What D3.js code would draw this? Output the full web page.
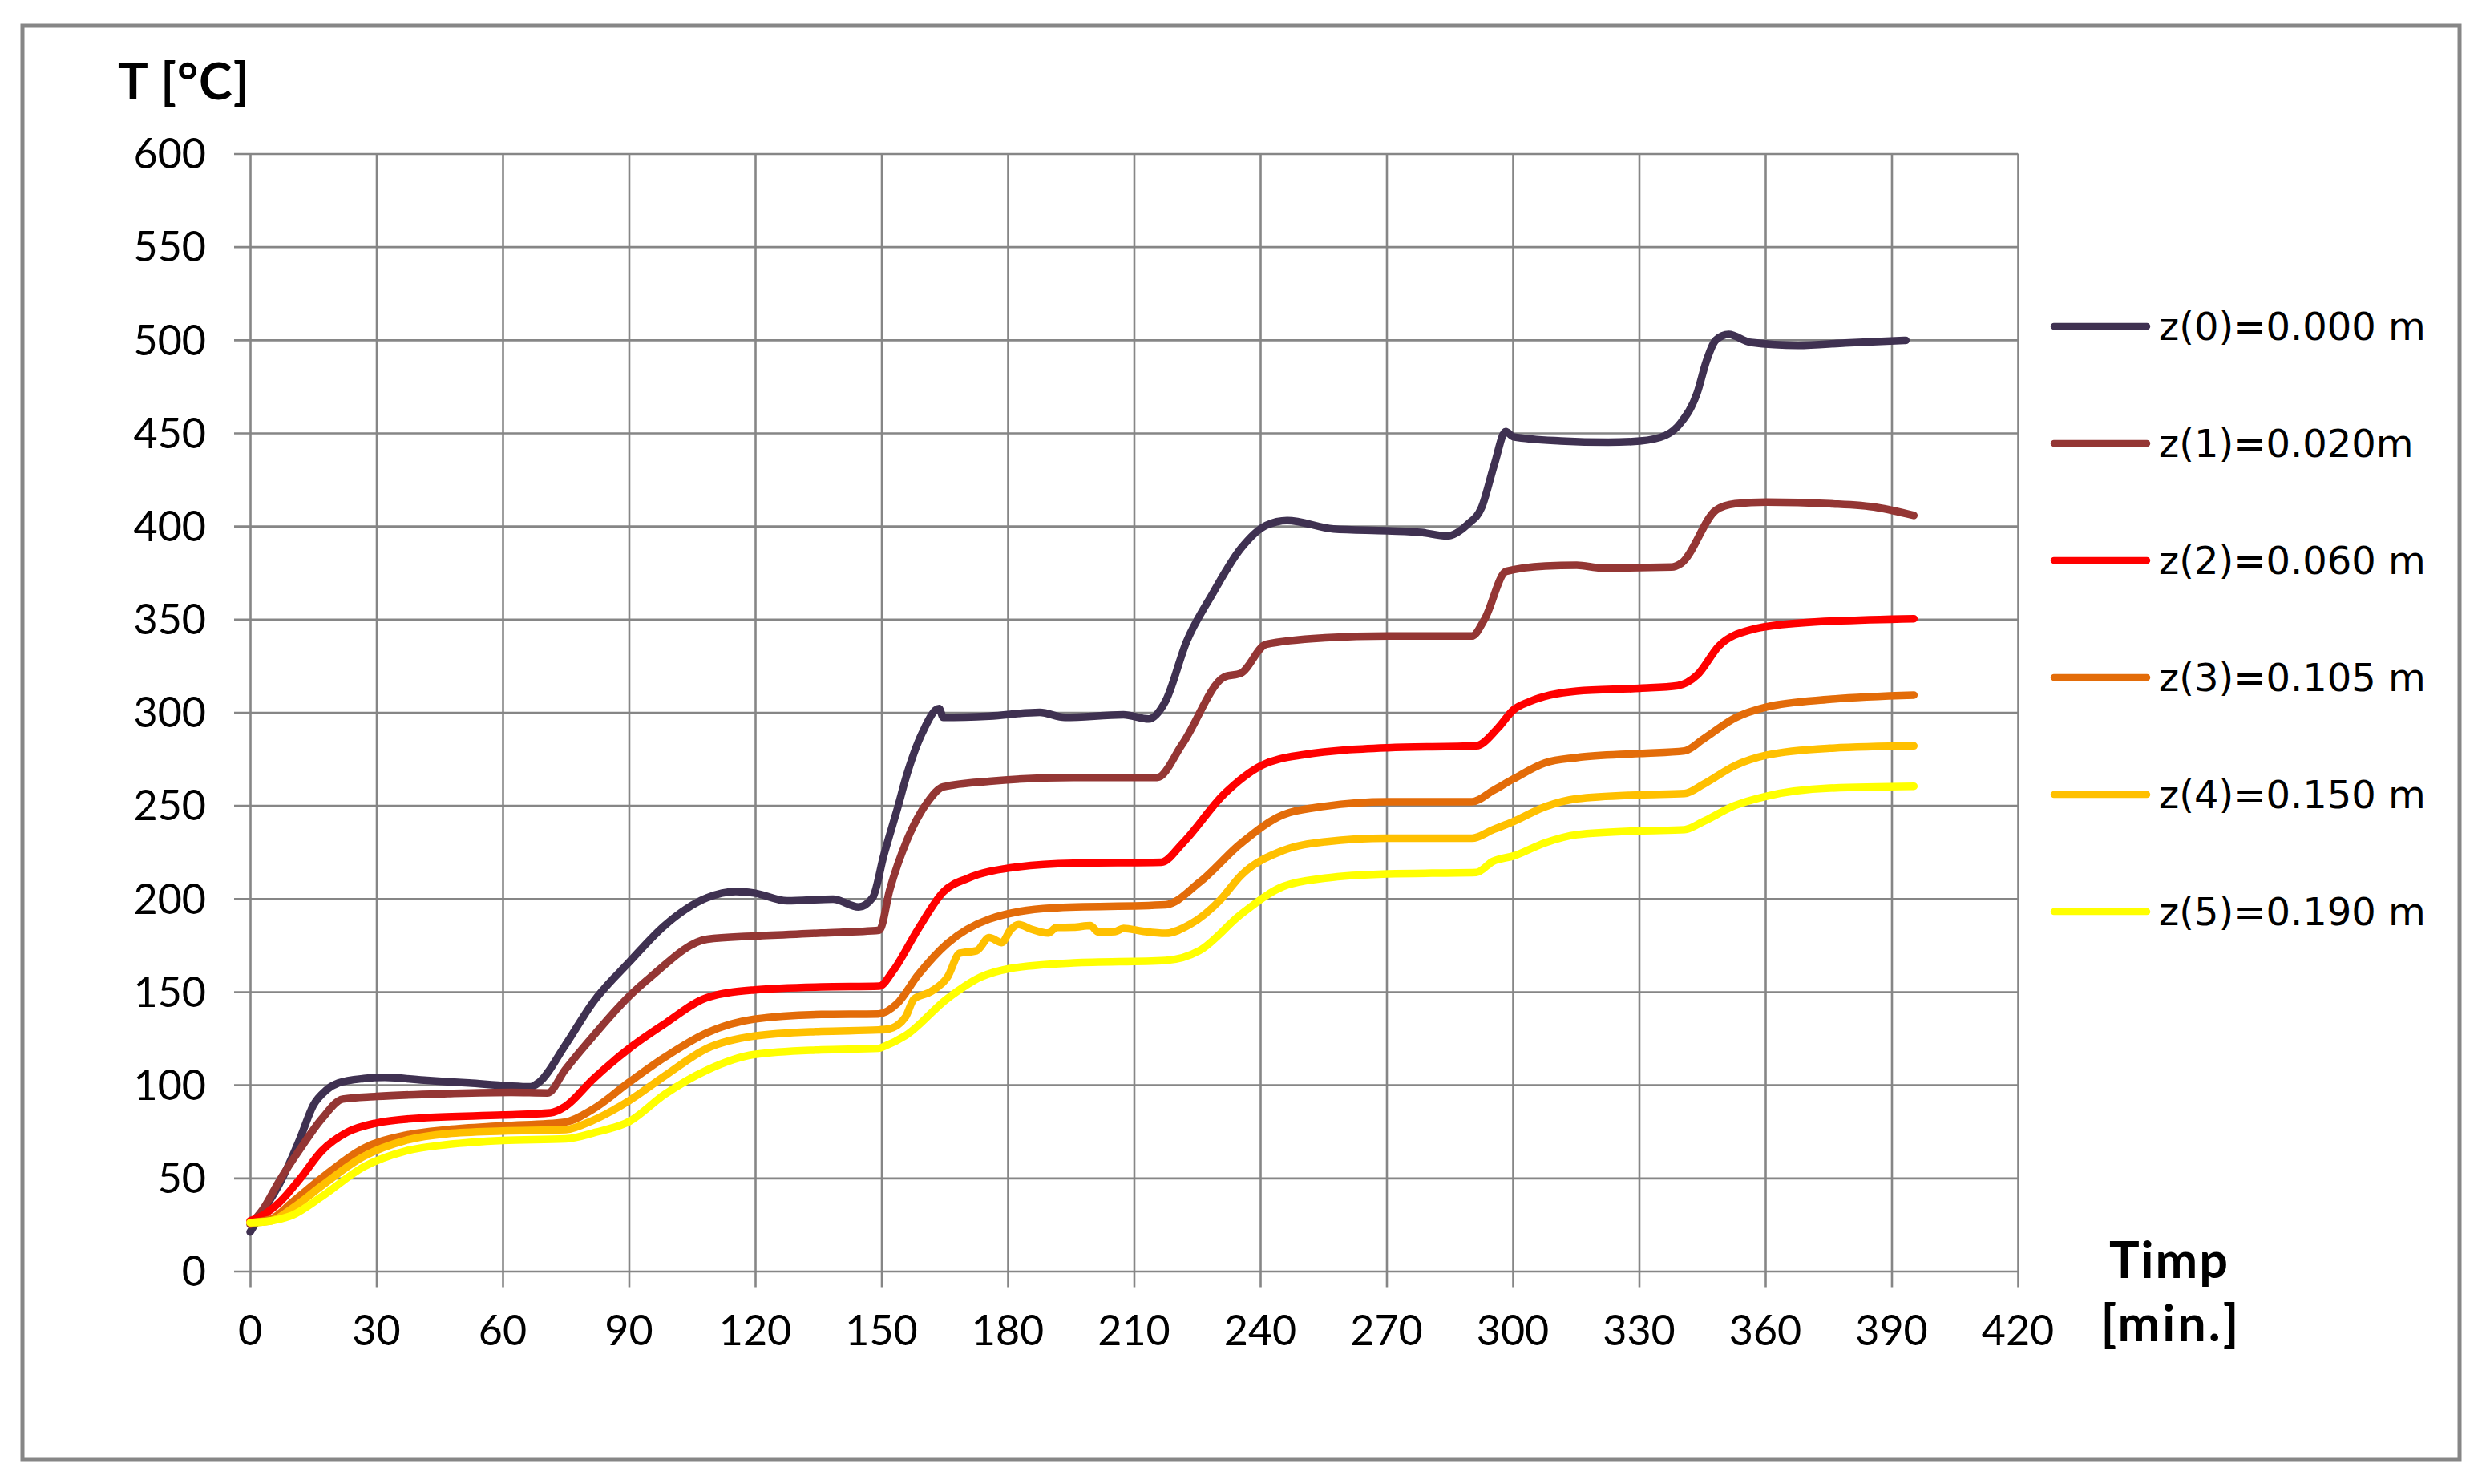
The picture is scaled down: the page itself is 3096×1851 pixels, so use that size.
<!DOCTYPE html>
<html>
<head>
<meta charset="utf-8">
<script src="https://cdn.jsdelivr.net/npm/d3@7"></script>
<style>
  html, body { margin: 0; padding: 0; background: #ffffff; }
  svg { display: block; }
</style>
</head>
<body>
<svg id="chart" width="3096" height="1851"></svg>
<script>
// ---------------- DATA ----------------
const seriesNames = ["z(0)=0.000 m", "z(1)=0.020m", "z(2)=0.060 m", "z(3)=0.105 m", "z(4)=0.150 m", "z(5)=0.190 m"];
const seriesColors = ["#3f3151", "#943634", "#ff0000", "#e36c09", "#ffc000", "#ffff00"];
const xTicks = [0, 30, 60, 90, 120, 150, 180, 210, 240, 270, 300, 330, 360, 390, 420];
const yTicks = [0, 50, 100, 150, 200, 250, 300, 350, 400, 450, 500, 550, 600];

// time [min], temperature [°C]
const z0 = [[0,21],[3,32],[7,47],[12,72],[15,89],[18,97],[21,101],[27,103.4],[32,104],[42,102.4],[52,101],[61.2,99.5],[66.6,99],[68.7,101.5],[74.8,121],[81.5,144.4],[90.1,166],[98.5,185.6],[108.6,200.5],[115.4,203.8],[119.8,203],[127.6,198.8],[138.5,199.7],[144.6,195.5],[147.9,200.5],[150.6,223.6],[154,250],[155.7,264],[159.7,289],[163.7,302],[164.7,297.3],[175.6,298],[187.6,300],[193.6,297.3],[207.5,298.7],[213.5,296.4],[217.5,306],[222.5,338],[228.5,363],[235.4,388],[241.4,400.4],[246.4,403],[257.4,398.5],[270.3,397.5],[278.3,396.6],[284.3,394.7],[289.3,401],[292.6,410],[295.6,432.9],[298.3,450.7],[300.2,447.9],[311.4,445.7],[322.7,445],[330.2,445.7],[336.2,448.6],[340,455.7],[343.8,471.4],[346,488.6],[348.3,500],[351.3,502.9],[356.5,498.6],[367.8,497],[379,498.3],[393.4,499.7]];
const z1 = [[0,25],[3,33],[7,48.7],[12,66],[17,81.7],[22,92.4],[30,93.8],[47,95.3],[62,96],[70.7,95.7],[74.8,108],[81.5,126.2],[90.1,147.7],[95,157.6],[108.6,178.2],[119.8,179.9],[135.7,181.5],[149.5,183],[152,205],[156,231],[160.7,251],[164.7,260],[175.6,263],[195.6,265],[215.5,265],[221.5,283],[231.5,319],[235.4,321],[241.4,336.5],[255.4,340],[270.3,341],[290.3,341],[293.3,350],[298.4,375.7],[307.7,378.6],[315.2,379],[321.2,377.5],[337.7,378],[340,380],[348.3,408.6],[352.8,412],[360.3,412.9],[375.3,412],[386.6,410],[395.3,405.7]];
const z2 = [[0,27],[3,30],[7,37],[12,50],[17,64.5],[23,74.5],[30,79.5],[42,82.4],[60,83.8],[71.4,85],[74.8,88.3],[81.5,103.1],[90.1,119.6],[98.5,132.8],[108.6,146.9],[119.8,151],[135.7,152.6],[149.5,153],[152.7,161],[158.7,183.6],[164.7,203.6],[170.6,211],[180.6,216.5],[195.6,219],[216.5,219.5],[221.5,229.6],[231.5,256.3],[240.4,271.6],[250.4,277.3],[270.3,281],[291.3,282],[296.4,291.4],[300.2,301.4],[303.9,305.7],[315.2,311.4],[330.2,312.9],[339.2,314.3],[343.8,320],[349,335.7],[356.5,344.3],[367.8,347.9],[395.3,350.3]];
const z3 = [[0,26],[5,28],[10,37],[17,50],[27,66],[37,73],[47,76],[60,78],[74.8,80],[81.5,87],[90.1,101.5],[98.5,114.8],[108.6,128],[119.8,135.3],[135.7,137.8],[149.3,138.1],[153.7,143.6],[158.7,159],[165.7,176],[175.6,189],[190.6,195],[217.5,196.7],[225.5,208.6],[235.4,229.6],[245.4,245],[255.4,249.6],[270.3,252],[290.3,252],[295.3,258],[300.2,264.3],[307.7,272.9],[315.2,275.7],[330.2,277.9],[340.8,279.3],[345.3,285.7],[352.8,297],[360.3,302.9],[375.3,307],[395.3,309.3]];
const z4 = [[0,26],[5,27],[10,33.7],[17,45.8],[27,61.6],[37,70.2],[47,73.8],[60,75.2],[75,76],[81.5,81],[90.1,91.6],[98.5,104.8],[108.6,119.6],[119.8,126.2],[135.7,128.7],[149.3,129.5],[151.7,130],[155.7,136.4],[157.7,146],[161.7,150],[165.7,157.9],[168.6,170.7],[172.6,172],[175.6,179],[178.6,176.4],[180.6,183],[182.6,186],[185.6,183.6],[189.6,181.5],[191.6,184.5],[195.6,184.6],[199.6,185.5],[201.6,182],[205.5,182.3],[207.5,184],[212,182.5],[217.5,181.4],[223.5,186.4],[230.5,199.3],[235.4,212.4],[245.4,225.8],[255.4,230.5],[270.3,232.4],[290.3,232.4],[295.3,237],[300.2,241.4],[307.7,249.3],[315.2,253.6],[330.2,255.7],[340.8,256.4],[345.3,261.4],[352.8,271.4],[360.3,277],[375.3,280.7],[395.3,282]];
const z5 = [[0,26],[5,27],[10,30],[17,40],[27,56],[37,64.5],[47,68],[60,70.2],[75,71],[82,74.5],[90.1,80.4],[98.5,94.9],[108.6,108],[119.8,116.3],[135.7,118.8],[149.3,119.6],[150.7,120.7],[155.7,126.4],[165.7,146.4],[173.6,157.9],[180.6,162.5],[195.6,165.5],[217.5,166.8],[225.5,172],[235.4,191.5],[245.4,206.5],[255.4,211],[270.3,213.3],[291.3,214],[295.3,220],[300.2,222.9],[307.7,230],[315.2,234.3],[330.2,236.4],[340.8,237],[345.3,241.4],[352.8,250],[360.3,255],[375.3,259.3],[395.3,260.3]];
const seriesData = [z0, z1, z2, z3, z4, z5];

// ---------------- LAYOUT ----------------
const svg = d3.select("#chart");
const gridColor = "#868686";
const plot = { left: 312, right: 2517, top: 191.5, bottom: 1585.5 };

const x = d3.scaleLinear().domain([0, 420]).range([plot.left, plot.right]);
const y = d3.scaleLinear().domain([0, 600]).range([plot.bottom, plot.top]);

// outer frame
svg.append("rect")
  .attr("x", 28).attr("y", 32).attr("width", 3040).attr("height", 1788)
  .attr("fill", "#ffffff").attr("stroke", gridColor).attr("stroke-width", 5);

// gridlines + tick marks via axes
const yAxis = d3.axisLeft(y).tickValues(yTicks)
  .tickSize(-(plot.right - plot.left)).tickSizeOuter(0).tickPadding(0).tickFormat("");
const gy = svg.append("g").attr("transform", `translate(${plot.left},0)`).call(yAxis);
gy.select(".domain").remove();
gy.selectAll(".tick line").attr("stroke", gridColor).attr("stroke-width", 2.6)
  .attr("x1", -20);

const xAxis = d3.axisBottom(x).tickValues(xTicks)
  .tickSize(-(plot.bottom - plot.top)).tickSizeOuter(0).tickFormat("");
const gx = svg.append("g").attr("transform", `translate(0,${plot.bottom})`).call(xAxis);
gx.select(".domain").remove();
gx.selectAll(".tick line").attr("stroke", gridColor).attr("stroke-width", 2.6)
  .attr("y1", 20);

const labelFont = "Lato, 'Open Sans', sans-serif";

// y tick labels
svg.append("g").selectAll("text").data(yTicks).join("text")
  .attr("x", 257).attr("y", d => y(d))
  .attr("dy", "0.36em")
  .attr("text-anchor", "end")
  .attr("font-family", labelFont).attr("font-size", 52).attr("fill", "#000")
  .text(d => d);

// x tick labels
svg.append("g").selectAll("text").data(xTicks).join("text")
  .attr("x", d => x(d)).attr("y", 1678)
  .attr("text-anchor", "middle")
  .attr("font-family", labelFont).attr("font-size", 52).attr("fill", "#000")
  .text(d => d);

// axis titles
svg.append("text").attr("x", 147).attr("y", 124)
  .attr("font-family", labelFont).attr("font-weight", "bold").attr("font-size", 63)
  .attr("letter-spacing", 1).attr("fill", "#000")
  .text("T [°C]");
svg.append("text").attr("x", 2706).attr("y", 1594).attr("text-anchor", "middle")
  .attr("font-family", labelFont).attr("font-weight", "bold").attr("font-size", 63)
  .attr("letter-spacing", 2).attr("fill", "#000")
  .text("Timp");
svg.append("text").attr("x", 2708).attr("y", 1673).attr("text-anchor", "middle")
  .attr("font-family", labelFont).attr("font-weight", "bold").attr("font-size", 63)
  .attr("letter-spacing", 3).attr("fill", "#000")
  .text("[min.]");

// series lines
const line = d3.line().x(d => x(d[0])).y(d => y(d[1])).curve(d3.curveMonotoneX);
svg.append("g").selectAll("path").data(seriesData).join("path")
  .attr("d", d => line(d))
  .attr("fill", "none")
  .attr("stroke", (d, i) => seriesColors[i])
  .attr("stroke-width", 9.5)
  .attr("stroke-linejoin", "round")
  .attr("stroke-linecap", "round");

// legend
const legendY = d3.scalePoint().domain(seriesNames).range([407, 1137]);
const lg = svg.append("g").selectAll("g").data(seriesNames).join("g")
  .attr("transform", d => `translate(0,${legendY(d)})`);
lg.append("line").attr("x1", 2562).attr("x2", 2678).attr("y1", 0).attr("y2", 0)
  .attr("stroke", (d, i) => seriesColors[i]).attr("stroke-width", 8.5).attr("stroke-linecap", "round");
lg.append("text").attr("x", 2693).attr("y", 0).attr("dy", "0.36em")
  .attr("font-family", "'DejaVu Sans', Verdana, sans-serif").attr("font-size", 48).attr("fill", "#000")
  .text(d => d);
</script>
</body>
</html>
